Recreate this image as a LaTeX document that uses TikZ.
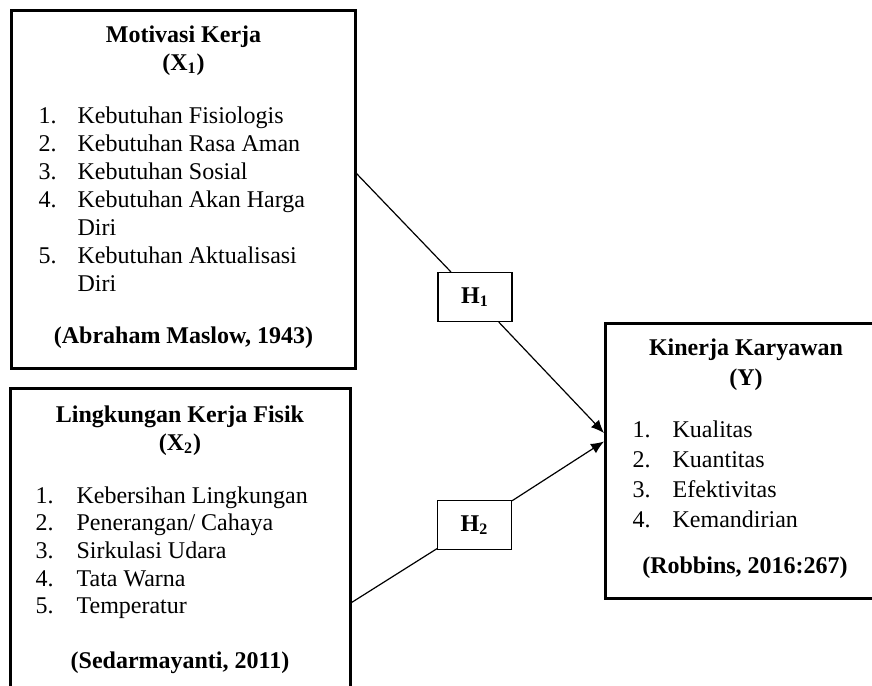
\documentclass[tikz,border=0pt]{standalone}
\usepackage{fontspec}
\setmainfont{Liberation Serif}
\usetikzlibrary{arrows.meta}

\begin{document}
\begin{tikzpicture}[x=0.5pt, y=-0.5pt, line width=0.6pt, >={Latex[length=6.5pt,width=5.5pt]},
    every node/.style={font=\fontsize{12}{14}\selectfont, inner sep=0pt},
    varbox/.style={draw, line width=1.5pt},
    hbox/.style={draw, fill=white, minimum width=37pt, minimum height=24.5pt, font=\fontsize{12}{14}\selectfont\bfseries},
    ttl/.style={anchor=base, font=\fontsize{12}{14}\selectfont\bfseries},
    item/.style={anchor=base west}]
   \useasboundingbox (0,0) rectangle (872,685);
   % motivasi kerja
   \node[varbox, minimum width=172pt, minimum height=179pt] (X1) at (183.5,189) {};
   \node[ttl] (x1t) at (183.5,42) {Motivasi Kerja};
   \node[ttl] (x1v) at (183.5,70) {(X\textsubscript{1})};
   \foreach \y/\n/\t [count=\i] in {123/1./Kebutuhan Fisiologis, 151/2./Kebutuhan Rasa Aman,
       179/3./Kebutuhan Sosial, 207/4./Kebutuhan Akan Harga, 235//Diri,
       263/5./Kebutuhan Aktualisasi, 291//Diri} {
     \node[item] (x1no\i) at (38,\y) {\n};
     \node[item] (x1it\i) at (77,\y) {\t};
   }
   \node[ttl] (x1s) at (183.5,343) {(Abraham Maslow, 1943)};
   % lingkungan kerja fisik
   \node[varbox, minimum width=170pt, minimum height=170pt] (X2) at (180,558) {};
   \node[ttl] (x2t) at (180,422) {Lingkungan Kerja Fisik};
   \node[ttl] (x2v) at (180,450) {(X\textsubscript{2})};
   \foreach \y/\n/\t [count=\i] in {503/1./Kebersihan Lingkungan, 530/2./{Penerangan/ Cahaya},
       558/3./Sirkulasi Udara, 586/4./Tata Warna, 613/5./Temperatur} {
     \node[item] (x2no\i) at (35,\y) {\n};
     \node[item] (x2it\i) at (76,\y) {\t};
   }
   \node[ttl] (x2s) at (180,668) {(Sedarmayanti, 2011)};
   % kinerja karyawan
   \node[varbox, minimum width=142.5pt, minimum height=137.5pt] (Y) at (747.5,460.5) {};
   \node[ttl] (yt) at (746,355) {Kinerja Karyawan};
   \node[ttl] (yv) at (746,385) {(Y)};
   \foreach \y/\n/\t [count=\i] in {437/1./Kualitas, 467/2./Kuantitas,
       497/3./Efektivitas, 527/4./Kemandirian} {
     \node[item] (yno\i) at (632,\y) {\n};
     \node[item] (yit\i) at (672,\y) {\t};
   }
   \node[ttl] (ys) at (745,573) {(Robbins, 2016:267)};
   % hipotesis
   \coordinate (s1) at (356,173);
   \coordinate (e1) at (604,433);
   \coordinate (s2) at (350,603.5);
   \coordinate (e2) at (604,441.5);
   \node[hbox] (H1) at (475,297) {H\textsubscript{1}};
   \node[hbox] (H2) at (474.5,525) {H\textsubscript{2}};
   \draw (s1) -- (H1);
   \draw[->] (H1) -- (e1);
   \draw (s2) -- (H2);
   \draw[->] (H2) -- (e2);
\end{tikzpicture}
\end{document}
